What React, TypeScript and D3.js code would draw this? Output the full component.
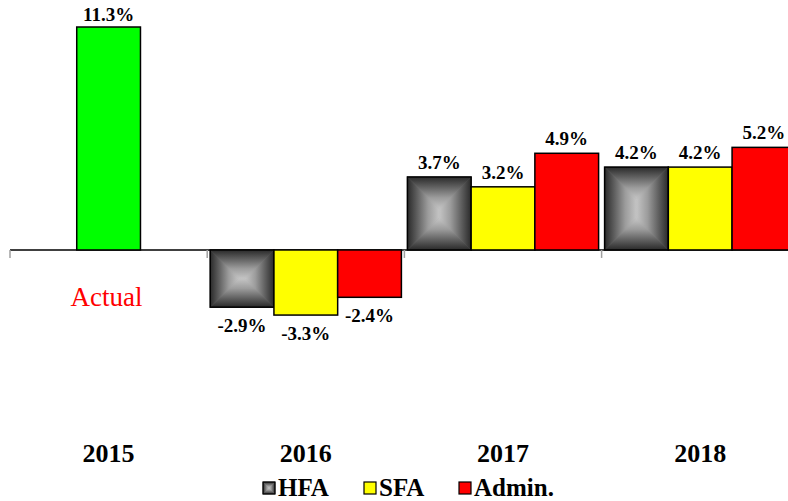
import React from 'react';
import * as d3 from 'd3';

const categories = ['2015', '2016', '2017', '2018'];
const seriesNames = ['HFA', 'SFA', 'Admin.'];
const actualValues: (number | null)[] = [11.3, null, null, null];
const hfaValues: (number | null)[] = [null, -2.9, 3.7, 4.2];
const sfaValues: (number | null)[] = [null, -3.3, 3.2, 4.2];
const adminValues: (number | null)[] = [null, -2.4, 4.9, 5.2];
const seriesColors = ['hfa', '#ffff00', '#ff0000'];
const actualColor = '#00ff00';
const actualLabel = 'Actual';

const W = 788;
const H = 501;
const FONT = 'Liberation Serif';

function HfaRect({ x, y, w, h, sw = 1.5 }: { x: number; y: number; w: number; h: number; sw?: number }) {
  const t = Math.min(w, h) / 2;
  const L = x, R = x + w, T = y, B = y + h;
  const pts = (a: number[][]) => a.map((p) => p.join(',')).join(' ');
  const polys: [string, number[][]][] = [
    ['gT', [[L, T], [R, T], [R - t, T + t], [L + t, T + t]]],
    ['gB', [[L, B], [R, B], [R - t, B - t], [L + t, B - t]]],
    ['gL', [[L, T], [L + t, T + t], [L + t, B - t], [L, B]]],
    ['gR', [[R, T], [R - t, T + t], [R - t, B - t], [R, B]]],
  ];
  return (
    <g>
      <rect x={x} y={y} width={w} height={h} fill="#8a8a8a" />
      {polys.map(([id, p]) => (
        <polygon key={id} points={pts(p)} fill={`url(#${id})`} stroke={`url(#${id})`} strokeWidth={0.6} strokeLinejoin="round" />
      ))}
      <rect x={x} y={y} width={w} height={h} fill="none" stroke="#000" strokeWidth={sw} />
    </g>
  );
}

export default function App() {
  const y = d3.scaleLinear().domain([-8, 12]).range([407.8, 13.2]);
  const x0 = d3.scaleBand<string>().domain(categories).range([10, 798.8]).padding(0);
  const bw = x0.bandwidth();
  const x1 = d3.scaleBand<string>().domain(seriesNames).range([3, bw - 3]).padding(0);
  const sbw = x1.bandwidth();
  const zeroY = y(0);

  const seriesData = [hfaValues, sfaValues, adminValues];

  const stops = (
    <>
      <stop offset="0" stopColor="#2a2a2a" />
      <stop offset="0.3" stopColor="#5e5e5e" />
      <stop offset="0.65" stopColor="#9c9c9c" />
      <stop offset="1" stopColor="#c4c4c4" />
    </>
  );

  const bars: React.ReactNode[] = [];
  const labels: React.ReactNode[] = [];

  categories.forEach((c, ci) => {
    const a = actualValues[ci];
    if (a != null) {
      const cx = (x0(c) as number) + bw / 2;
      const bx = cx - sbw / 2;
      bars.push(
        <rect key={'a' + c} x={bx} y={Math.min(y(a), zeroY)} width={sbw} height={Math.abs(y(a) - zeroY)}
          fill={actualColor} stroke="#000" strokeWidth={1.5} />
      );
      labels.push(
        <text key={'al' + c} x={cx} y={a >= 0 ? y(a) - 6 : y(a) + 25} textAnchor="middle"
          fontFamily={FONT} fontWeight="bold" fontSize={19}>{a.toFixed(1)}%</text>
      );
    }
    seriesNames.forEach((s, si) => {
      const v = seriesData[si][ci];
      if (v == null) return;
      const bx = (x0(c) as number) + (x1(s) as number);
      const top = Math.min(y(v), zeroY);
      const h = Math.abs(y(v) - zeroY);
      if (seriesColors[si] === 'hfa') {
        bars.push(<HfaRect key={s + c} x={bx} y={top} w={sbw} h={h} />);
      } else {
        bars.push(
          <rect key={s + c} x={bx} y={top} width={sbw} height={h} fill={seriesColors[si]}
            stroke="#000" strokeWidth={1.5} />
        );
      }
      labels.push(
        <text key={'l' + s + c} x={bx + sbw / 2} y={v >= 0 ? y(v) - 8 : y(v) + 25} textAnchor="middle"
          fontFamily={FONT} fontWeight="bold" fontSize={19}>{v.toFixed(1)}%</text>
      );
    });
  });

  const tickXs = [...categories.map((c) => x0(c) as number), 10 + bw * categories.length];

  const legendX = [263, 364, 459];

  return (
    <svg width={W} height={H} style={{ position: 'absolute', left: 0, top: 0 }}>
      <defs>
        <linearGradient id="gL" x1="0" y1="0" x2="1" y2="0">{stops}</linearGradient>
        <linearGradient id="gR" x1="1" y1="0" x2="0" y2="0">{stops}</linearGradient>
        <linearGradient id="gT" x1="0" y1="0" x2="0" y2="1">{stops}</linearGradient>
        <linearGradient id="gB" x1="0" y1="1" x2="0" y2="0">{stops}</linearGradient>
      </defs>
      <rect x={0} y={0} width={W} height={H} fill="#fff" />
      <line x1={10} x2={W} y1={zeroY} y2={zeroY} stroke="#000" strokeWidth={1.5} />
      {tickXs.map((tx, i) => (
        <line key={'t' + i} x1={tx} x2={tx} y1={zeroY} y2={zeroY + 8} stroke="#a0a0a0" strokeWidth={1.5} />
      ))}
      {bars}
      {labels}
      <text x={(x0('2015') as number) + bw / 2 - 2} y={306} textAnchor="middle" fontFamily={FONT}
        fontSize={27} fill="#ff0000">{actualLabel}</text>
      {categories.map((c) => (
        <text key={'c' + c} x={(x0(c) as number) + bw / 2} y={462} textAnchor="middle" fontFamily={FONT}
          fontWeight="bold" fontSize={26}>{c}</text>
      ))}
      {seriesNames.map((s, si) => (
        <g key={'lg' + s}>
          {seriesColors[si] === 'hfa' ? (
            <HfaRect x={legendX[si]} y={482} w={12} h={12} sw={1.2} />
          ) : (
            <rect x={legendX[si]} y={482} width={12} height={12} fill={seriesColors[si]} stroke="#000" strokeWidth={1.2} />
          )}
          <text x={legendX[si] + 15} y={496} fontFamily={FONT} fontWeight="bold" fontSize={25}>{s}</text>
        </g>
      ))}
    </svg>
  );
}
